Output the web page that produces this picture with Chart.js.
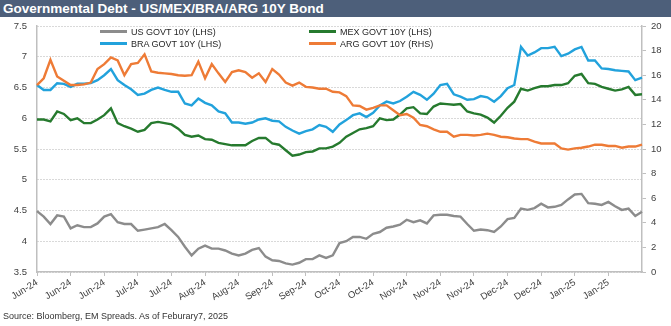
<!DOCTYPE html>
<html>
<head>
<meta charset="utf-8">
<title>Governmental Debt - US/MEX/BRA/ARG 10Y Bond</title>
<script src="https://cdn.jsdelivr.net/npm/chart.js@4.4.1/dist/chart.umd.min.js"></script>
<style>
    body { margin: 0; background: #fff; }
    #wrap { position: relative; width: 671px; height: 326px; overflow: hidden; font-family: "Liberation Sans", Arial, sans-serif; }
    #title { position: absolute; left: 0; top: 0; width: 671px; height: 17px; background: #4d5f7a; color: #fff;
             font-weight: bold; font-size: 13.5px; line-height: 17px; padding-left: 3px; box-sizing: border-box; }
    #chart { position: absolute; left: 0; top: 0; }
    .leg { position: absolute; font-size: 9px; color: #262626; line-height: 10px; white-space: nowrap; }
    .leg i { display: inline-block; width: 27px; height: 2.5px; vertical-align: middle; margin-right: 4px; position: relative; top: -1px; }
    #source { position: absolute; left: 3px; top: 311px; font-size: 9px; color: #333; }
</style>
</head>
<body>
<div id="wrap">
    <canvas id="chart" width="671" height="326"></canvas>
    <div id="title">Governmental Debt - US/MEX/BRA/ARG 10Y Bond</div>
    <div class="leg" style="left:100px; top:27px;"><i style="background:#8c8c8c"></i>US GOVT 10Y (LHS)</div>
    <div class="leg" style="left:100px; top:39px;"><i style="background:#22a2dc"></i>BRA GOVT 10Y (LHS)</div>
    <div class="leg" style="left:309px; top:27px;"><i style="background:#267a2e"></i>MEX GOVT 10Y (LHS)</div>
    <div class="leg" style="left:309px; top:39px;"><i style="background:#ee7b36"></i>ARG GOVT 10Y (RHS)</div>
    <div id="source">Source: Bloomberg, EM Spreads. As of Feburary7, 2025</div>
</div>
<script>
// tick labels along the bottom, one every 5 points
const tickLabels = ['Jun-24', 'Jun-24', 'Jun-24', 'Jul-24', 'Jul-24', 'Aug-24', 'Aug-24', 'Sep-24', 'Sep-24',
    'Oct-24', 'Oct-24', 'Nov-24', 'Nov-24', 'Nov-24', 'Dec-24', 'Dec-24', 'Jan-25', 'Jan-25'];
const pointsPerTick = 5;

// yields, % (LHS)
const usYield = [4.49, 4.40, 4.28, 4.42, 4.40, 4.21, 4.26, 4.23, 4.23, 4.29, 4.40, 4.44, 4.31, 4.28, 4.28, 4.17,
    4.19, 4.21, 4.23, 4.28, 4.18, 4.07, 3.91, 3.77, 3.88, 3.93, 3.88, 3.88, 3.85, 3.80, 3.77,
    3.80, 3.86, 3.89, 3.75, 3.69, 3.68, 3.64, 3.62, 3.65, 3.71, 3.71, 3.77, 3.73, 3.77, 3.97,
    4.00, 4.07, 4.07, 4.04, 4.12, 4.15, 4.22, 4.24, 4.27, 4.35, 4.31, 4.34, 4.29, 4.42, 4.43,
    4.43, 4.41, 4.40, 4.28, 4.17, 4.19, 4.18, 4.15, 4.24, 4.36, 4.38, 4.53, 4.51, 4.54, 4.61,
    4.55, 4.56, 4.59, 4.68, 4.76, 4.77, 4.62, 4.61, 4.59, 4.64, 4.57, 4.51, 4.53, 4.41, 4.48];
const mexYield = [5.98, 5.98, 5.95, 6.11, 6.07, 5.97, 6.00, 5.92, 5.92, 5.98, 6.05, 6.16, 5.92, 5.87, 5.83, 5.78,
    5.81, 5.92, 5.94, 5.92, 5.90, 5.83, 5.73, 5.70, 5.72, 5.66, 5.65, 5.60, 5.58, 5.56, 5.56,
    5.56, 5.63, 5.68, 5.68, 5.59, 5.57, 5.48, 5.39, 5.41, 5.45, 5.46, 5.51, 5.51, 5.54, 5.60,
    5.70, 5.76, 5.82, 5.84, 5.87, 6.00, 5.97, 5.98, 6.06, 6.16, 6.18, 6.08, 6.07, 6.19, 6.24,
    6.23, 6.22, 6.23, 6.11, 6.08, 6.06, 6.01, 5.93, 6.04, 6.17, 6.27, 6.48, 6.45, 6.49, 6.52,
    6.52, 6.54, 6.54, 6.57, 6.69, 6.72, 6.57, 6.56, 6.51, 6.48, 6.45, 6.47, 6.51, 6.38, 6.39];
const braYield = [6.54, 6.46, 6.46, 6.57, 6.56, 6.51, 6.56, 6.56, 6.57, 6.62, 6.70, 6.80, 6.62, 6.54, 6.47, 6.38,
    6.40, 6.46, 6.50, 6.46, 6.43, 6.43, 6.24, 6.21, 6.32, 6.25, 6.21, 6.11, 6.08, 5.93, 5.93,
    5.91, 5.93, 5.98, 6.00, 5.96, 5.95, 5.86, 5.80, 5.75, 5.79, 5.82, 5.89, 5.86, 5.78, 5.90,
    5.97, 6.05, 6.08, 6.02, 6.09, 6.21, 6.27, 6.24, 6.28, 6.35, 6.43, 6.38, 6.30, 6.40, 6.54,
    6.56, 6.39, 6.35, 6.30, 6.31, 6.36, 6.34, 6.27, 6.36, 6.49, 6.54, 7.16, 7.02, 7.07, 7.14,
    7.14, 7.16, 7.01, 7.05, 7.12, 7.16, 6.94, 6.94, 6.81, 6.80, 6.78, 6.77, 6.76, 6.62, 6.66];
// yield, % (RHS)
const argYield = [15.2, 15.75, 17.25, 15.9, 15.55, 15.2, 15.2, 15.25, 15.4, 16.5, 16.9, 17.45, 17.2, 16.0, 16.9, 17.0,
    17.7, 16.3, 16.2, 16.15, 16.1, 16.0, 15.95, 16.0, 17.1, 15.75, 16.9, 16.15, 15.45, 16.25, 16.4,
    16.25, 15.8, 16.15, 15.45, 16.5, 16.05, 15.4, 15.15, 15.4, 15.05, 15.0, 14.9, 14.9, 14.65, 14.6,
    14.3, 13.55, 13.5, 13.2, 13.35, 13.55, 13.55, 13.15, 12.75, 12.85, 12.55, 11.95, 11.85, 11.6, 11.4,
    11.4, 11.0, 11.15, 11.15, 11.1, 11.15, 11.25, 11.15, 11.0, 10.95, 10.85, 10.8, 10.8, 10.6, 10.45,
    10.45, 10.45, 10.05, 9.95, 10.05, 10.1, 10.2, 10.35, 10.35, 10.25, 10.25, 10.1, 10.2, 10.2, 10.35];

const categories = usYield.map((_, i) => i % pointsPerTick === 0 ? (tickLabels[i / pointsPerTick] || '') : '');

const axisGray = '#bfbfbf';
const gridGray = '#b3b3b3';
const textGray = '#404040';
const tickFont = { family: '"Liberation Sans", Arial, sans-serif', size: 9.5 };

function series(label, data, color, axis, order) {
    return {
        label: label,
        data: data,
        yAxisID: axis,
        borderColor: color,
        backgroundColor: color,
        borderWidth: 2.4,
        pointRadius: 0,
        tension: 0,
        order: order
    };
}

new Chart(document.getElementById('chart'), {
    type: 'line',
    data: {
        labels: categories,
        datasets: [
            series('US GOVT 10Y (LHS)', usYield, '#8c8c8c', 'y', 4),
            series('MEX GOVT 10Y (LHS)', mexYield, '#267a2e', 'y', 3),
            series('BRA GOVT 10Y (LHS)', braYield, '#22a2dc', 'y', 2),
            series('ARG GOVT 10Y (RHS)', argYield, '#ee7b36', 'y1', 1)
        ]
    },
    options: {
        responsive: false,
        animation: false,
        layout: { padding: { top: 26, left: 0, right: 0, bottom: 0 } },
        plugins: { legend: { display: false }, tooltip: { enabled: false } },
        scales: {
            x: {
                afterFit: (s) => { s.height = 54; },
                grid: {
                    drawOnChartArea: false,
                    drawTicks: true,
                    tickLength: 4,
                    tickColor: (ctx) => (ctx.index % pointsPerTick === 0 && categories[ctx.index]) ? axisGray : 'rgba(0,0,0,0)'
                },
                border: { display: true, color: axisGray, width: 1.5 },
                ticks: {
                    autoSkip: false,
                    minRotation: 32,
                    maxRotation: 32,
                    padding: 1,
                    color: textGray,
                    font: tickFont
                }
            },
            y: {
                position: 'left',
                min: 3.5,
                max: 7.5,
                afterFit: (s) => { s.width = 37; },
                grid: { color: gridGray, lineWidth: 1, drawTicks: false },
                border: { display: true, color: axisGray, width: 1.5, dash: [1, 2] },
                ticks: { stepSize: 0.5, padding: 10, color: textGray, font: tickFont, callback: (v) => String(v) }
            },
            y1: {
                position: 'right',
                min: 0,
                max: 20,
                afterFit: (s) => { s.width = 29; },
                grid: { drawOnChartArea: false, drawTicks: true, tickLength: 4, tickColor: axisGray },
                border: { display: true, color: axisGray, width: 1.5 },
                ticks: { stepSize: 2, padding: 5, color: textGray, font: tickFont }
            }
        }
    }
});
</script>
</body>
</html>
